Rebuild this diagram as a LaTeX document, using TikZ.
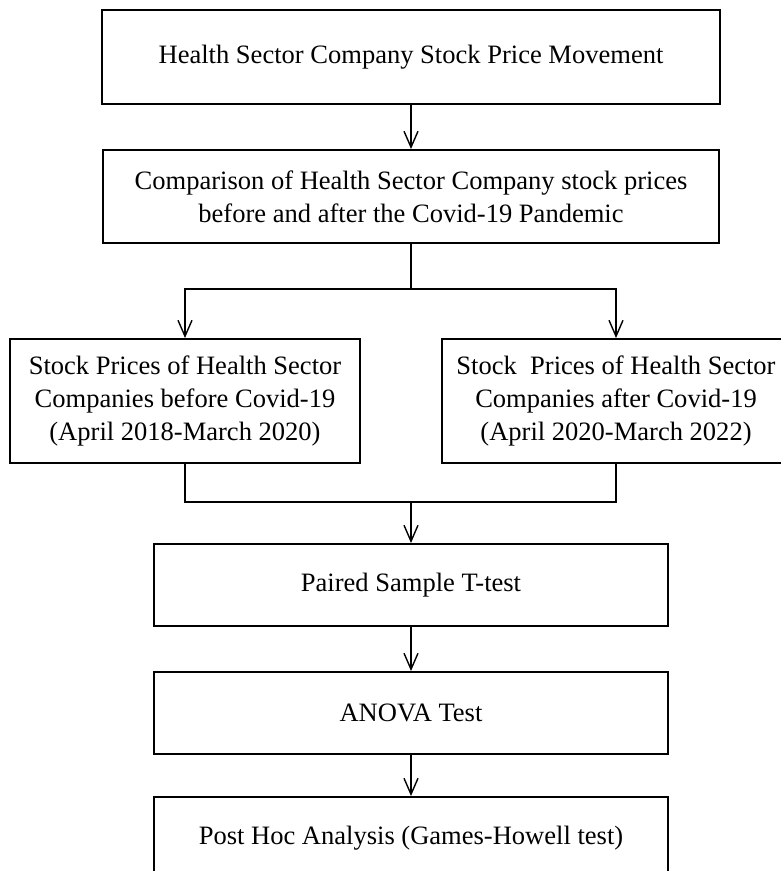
\documentclass[tikz,border=0pt]{standalone}
\usepackage{fontspec}
\setmainfont{Liberation Serif}
\usetikzlibrary{arrows.meta}

\tikzset{
	box/.style={draw, line width=1.1pt, inner sep=0pt, align=center, font=\fontsize{15.1}{18.6}\selectfont},
	line/.style={line width=0.8pt},
	link/.style={line width=0.8pt, -{Straight Barb[length=0.32cm,width=0.28cm,line width=0.8pt]}}
}

\begin{document}
\begin{tikzpicture}
	\useasboundingbox (0,0) rectangle (15.6,17.42);

	\node[box, minimum width=12.36cm, minimum height=1.88cm] (move) at (8.22,16.28) {Health Sector Company Stock Price Movement};
	\node[box, minimum width=12.32cm, minimum height=1.86cm] (comp) at (8.22,13.49) {Comparison of Health Sector Company stock prices\\before and after the Covid-19 Pandemic};
	\node[box, minimum width=7.0cm, minimum height=2.48cm] (before) at (3.70,9.40) {Stock Prices of Health Sector\\Companies before Covid-19\\(April 2018-March 2020)};
	\node[box, minimum width=6.96cm, minimum height=2.48cm] (after) at (12.32,9.40) {Stock\ \ Prices of Health Sector\\Companies after Covid-19\\(April 2020-March 2022)};
	\node[box, minimum width=10.28cm, minimum height=1.64cm] (paired) at (8.22,5.72) {Paired Sample T-test};
	\node[box, minimum width=10.28cm, minimum height=1.64cm] (anova) at (8.22,3.16) {ANOVA Test};
	\node[box, minimum width=10.28cm, minimum height=1.64cm] (posthoc) at (8.22,0.66) {Post Hoc Analysis (Games-Howell test)};

	\coordinate (split) at (8.22,11.64);	%fork
	\coordinate (join) at (8.22,7.38);		%merge

	\draw[link] (move) -- (comp);
	\draw[line] (comp) -- (split);
	\draw[link] (split) -| (before);		%to left
	\draw[link] (split) -| (after);			%to right
	\draw[line] (before) |- (join) -| (after);
	\draw[link] (join) -- (paired);
	\draw[link] (paired) -- (anova);
	\draw[link] (anova) -- (posthoc);
\end{tikzpicture}
\end{document}
